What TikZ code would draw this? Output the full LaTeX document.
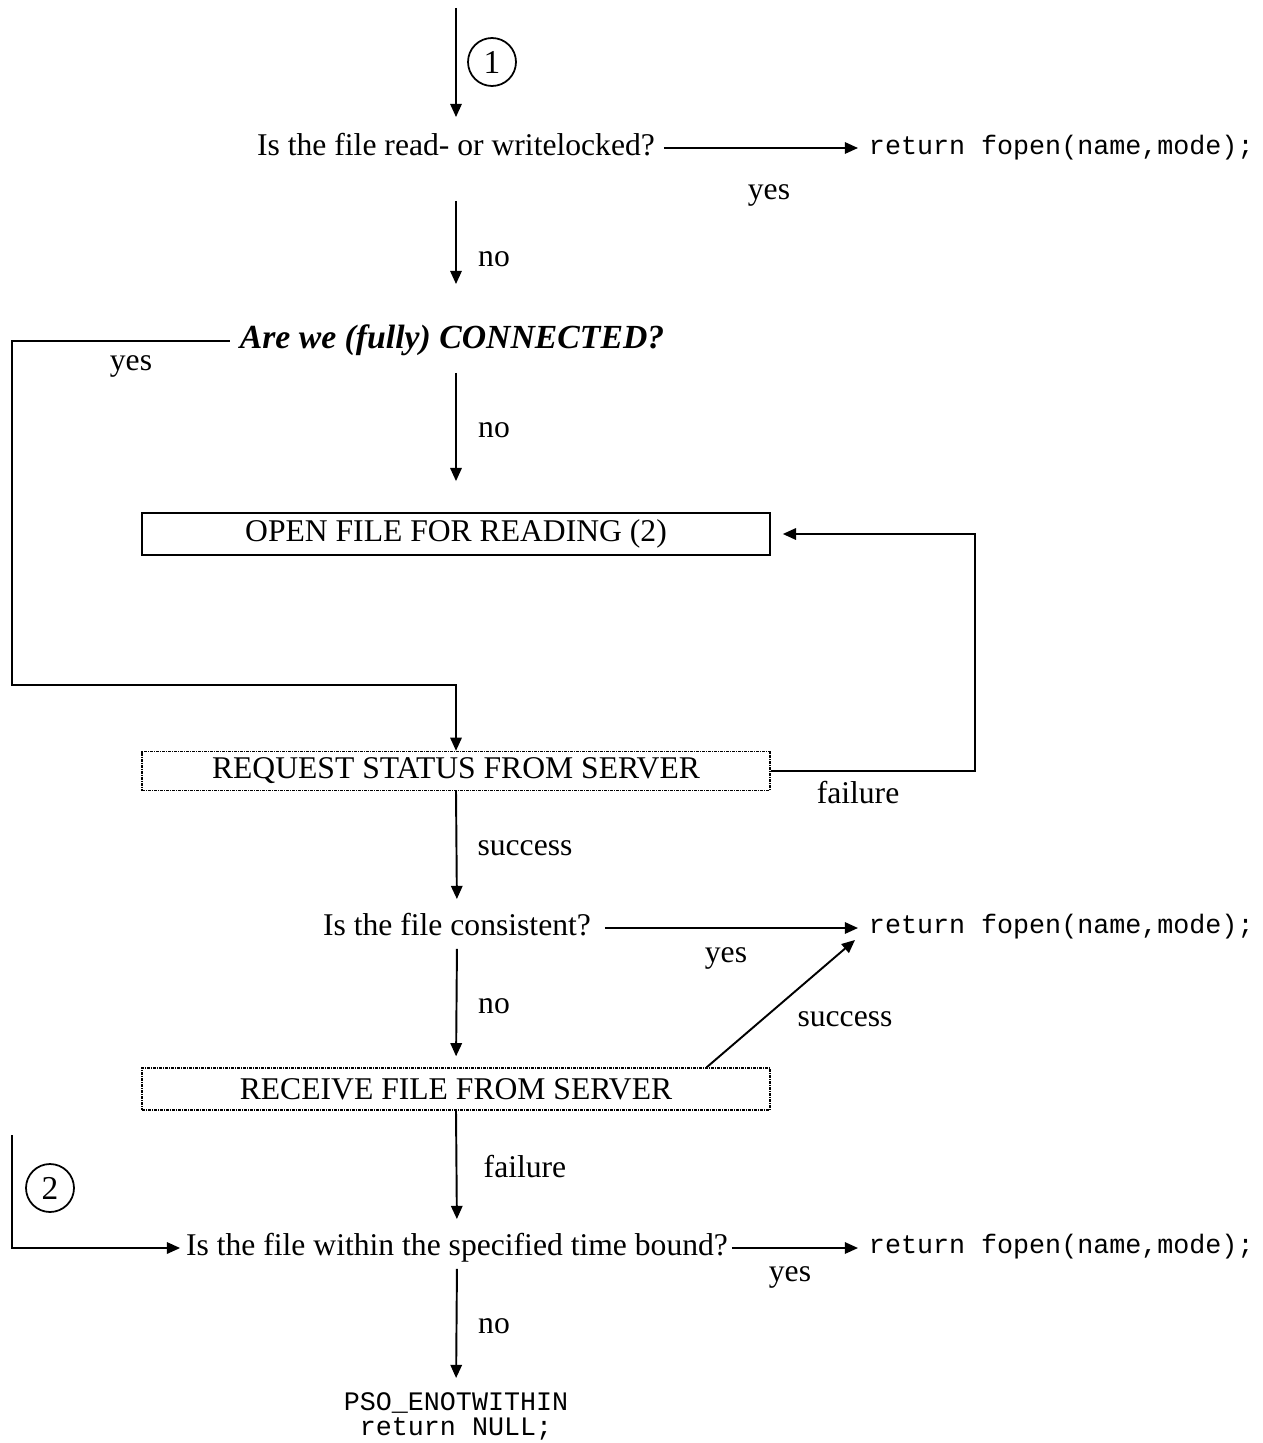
\documentclass[tikz,border=0pt]{standalone}
\usepackage{fontspec}
\setmainfont{Liberation Serif}
\setmonofont{Liberation Mono}
\usetikzlibrary{arrows.meta,calc}

\begin{document}
\begin{tikzpicture}[
  x=0.02cm, y=-0.02cm,
  line width=1.1pt,
  every node/.style={inner sep=0pt, font=\fontsize{18}{21}\selectfont},
  txt/.style={text height=12.5pt, text depth=4pt},
  code/.style={font=\fontsize{15.2}{17}\selectfont\ttfamily, text height=10pt, text depth=3pt},
  lbl/.style={font=\fontsize{18}{21}\selectfont},
  procbox/.style={draw, line width=1pt, minimum width=12.56cm, minimum height=0.84cm},
  dotbox/.style={draw, line width=0.8pt, dash pattern=on 0.06cm off 0.02cm on 0.02cm off 0.02cm,
                 minimum width=12.56cm, minimum height=0.78cm},
  ref/.style={draw, circle, line width=1pt, minimum size=0.96cm, font=\fontsize{19}{21}\selectfont},
  arr/.style={-{Triangle[length=7.5pt,width=6.5pt]}}
]
\useasboundingbox (0,0) rectangle (1263,1443);

% decisions and results
\node[txt] (q1) at (456,148) {Is the file read- or writelocked?};
\node[code, anchor=west] (r1) at (868,148) {return fopen(name,mode);};
\node[txt, font=\fontsize{19.2}{22}\selectfont\bfseries\itshape] (q2) at (452,341) {Are we (fully) CONNECTED?};
\node[procbox] (b1) at (456,534) {OPEN FILE FOR READING (2)};
\node[dotbox] (b2) at (456,771) {REQUEST STATUS FROM SERVER};
\node[txt] (q3) at (457,928) {Is the file consistent?};
\node[code, anchor=west] (r2) at (868,927) {return fopen(name,mode);};
\node[dotbox, minimum height=0.84cm] (b3) at (456,1089) {RECEIVE FILE FROM SERVER};
\node[txt] (q4) at (457,1248) {Is the file within the specified time bound?};
\node[code, anchor=west] (r3) at (868,1247) {return fopen(name,mode);};
\node[font=\fontsize{15.2}{17}\selectfont\ttfamily, align=center, anchor=north] (e1) at (456,1392)
  {PSO\_ENOTWITHIN\\[-3pt]return NULL;};

% reference marks
\node[ref] (c1) at (492,62) {1};
\node[ref] (c2) at (50,1188) {2};

% branch labels
\node[lbl] (y1) at (769,195) {yes};
\node[lbl] (n1) at (494,259) {no};
\node[lbl] (y2) at (131,366) {yes};
\node[lbl] (n2) at (494,430) {no};
\node[lbl] (f1) at (858,793) {failure};
\node[lbl] (s1) at (525,848) {success};
\node[lbl] (y3) at (726,958) {yes};
\node[lbl] (n3) at (494,1006) {no};
\node[lbl] (s2) at (845,1019) {success};
\node[lbl] (f2) at (525,1167) {failure};
\node[lbl] (y4) at (790,1277) {yes};
\node[lbl] (n4) at (494,1326) {no};

% route points
\coordinate (topc) at (456,8);
\coordinate (lx) at (12,685);
\coordinate (rc) at (975,534);
\coordinate (lc) at (12,1135);

% connectors
\draw[arr, shorten >=0.31cm] (topc) -- (q1.north);
\draw[arr, shorten <=0.16cm, shorten >=0.2cm] (q1.east) -- (r1.west);
\draw[arr, shorten <=0.75cm, shorten >=0.83cm] (q1.south) -- (q1.south |- q2.north);
\draw[arr, shorten <=0.18cm] (q2.west) -| (lx) -- (lx -| b2.north) -- (b2.north);
\draw[arr, shorten <=0.33cm, shorten >=0.62cm] (q2.south -| b1.north) -- (b1.north);
\draw[arr, shorten >=0.24cm] (b2.east) -| (rc) -- (b1.east);
\draw[arr, shorten >=0.27cm] (b2.south) -- (q3.north);
\draw[arr, shorten <=0.26cm, shorten >=0.2cm] (q3.east) -- (q3.east -| r2.west);
\draw[arr, shorten <=0.11cm, shorten >=0.22cm] (q3.south) -- (b3.north);
\draw[arr] ([xshift=-1.28cm]b3.north east) -- ([xshift=-0.26cm, yshift=-0.26cm]r2.west);
\draw[arr, shorten >=0.27cm] (b3.south) -- (q4.north);
\draw[arr, shorten >=0.1cm] (lc) |- (q4.west);
\draw[arr, shorten <=0.06cm, shorten >=0.2cm] (q4.east) -- (q4.east -| r3.west);
\draw[arr, shorten <=0.11cm, shorten >=0.28cm] (q4.south) -- (e1.north);
\end{tikzpicture}
\end{document}
